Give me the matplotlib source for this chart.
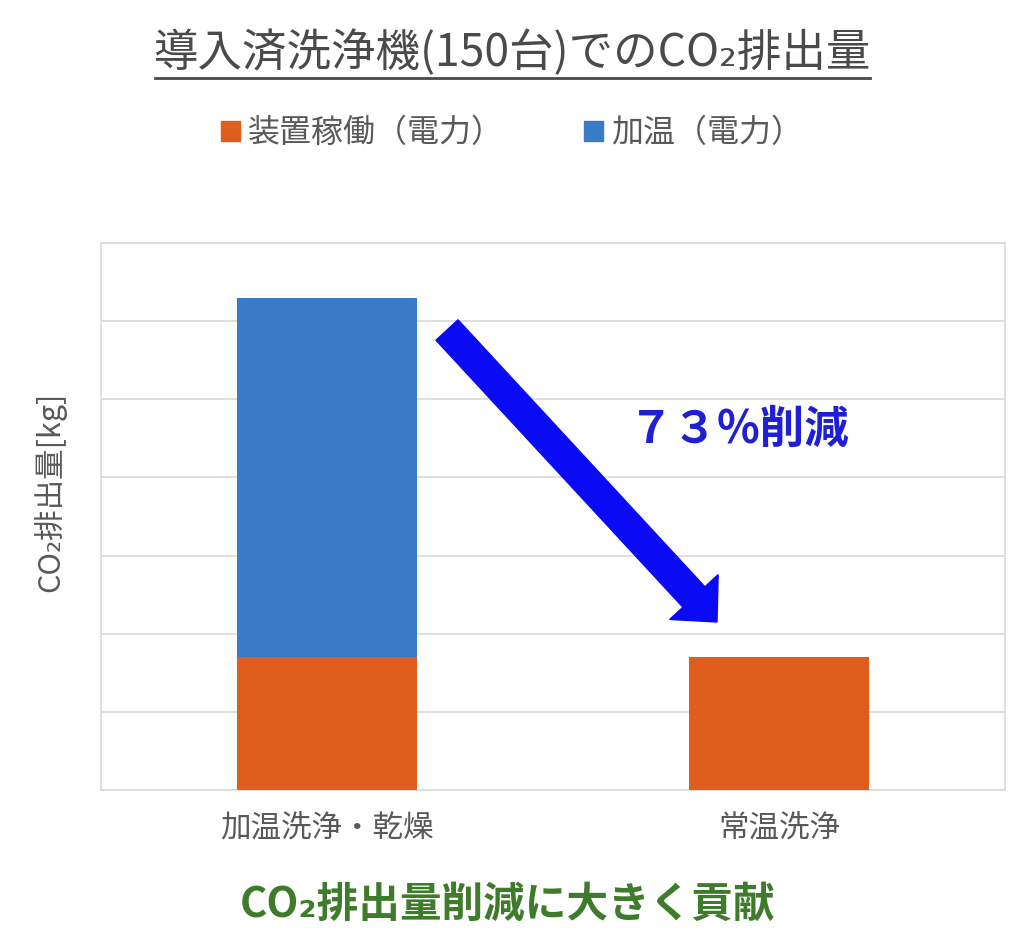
import matplotlib
matplotlib.use("Agg")
import matplotlib.pyplot as plt
from matplotlib.patches import FancyArrow
from matplotlib.lines import Line2D
from matplotlib.patches import Patch

plt.rcParams['font.family'] = ['Noto Sans CJK JP', 'DejaVu Sans']

# data (kg, relative scale)
categories = ['加温洗浄・乾燥', '常温洗浄']
operation = [1.7, 1.7]      # 装置稼働（電力）
heating = [4.6, 0.0]        # 加温（電力）
series_labels = ['装置稼働（電力）', '加温（電力）']
reduction_text = '７３%削減'

ORANGE = '#DF5E1E'
BLUE = '#3A7BC7'
GRAY = '#595959'
GRID = '#D9D9D9'

W, H = 1024, 931
fig = plt.figure(figsize=(W / 100, H / 100), dpi=100)
ax = fig.add_axes([101 / W, 1 - 790 / H, 904 / W, 547 / H])

x = list(range(len(categories)))
ax.bar(x, operation, width=0.4, color=ORANGE, zorder=3)
ax.bar(x, heating, width=0.4, bottom=operation, color=BLUE, zorder=3)

ax.set_xlim(-0.5, 1.5)
ax.set_ylim(0, 7)
ax.set_yticks(range(0, 8))
ax.set_yticklabels([])
ax.tick_params(axis='y', length=0)
ax.tick_params(axis='x', length=0, pad=16, labelsize=22, labelcolor=GRAY)
ax.set_xticks(x)
ax.set_xticklabels(categories)
ax.grid(axis='y', color=GRID, lw=1.2, zorder=0)
for s in ax.spines.values():
    s.set_color(GRID)
    s.set_linewidth(1.2)

ax.set_ylabel('CO₂排出量[kg]', fontsize=22, color=GRAY, va='center')
ax.yaxis.set_label_coords(-0.057, 0.545)

# title with underline
fig.text(512 / W, 1 - 53 / H, '導入済洗浄機(150台)でのCO₂排出量', ha='center', va='center',
         fontsize=32, color='#4A4A4A')
fig.add_artist(Line2D([155 / W, 870 / W], [1 - 78 / H, 1 - 78 / H], color='#4A4A4A', lw=2,
                      transform=fig.transFigure))

# legend
handles = [Patch(color=ORANGE), Patch(color=BLUE)]
fig.legend(handles, series_labels, loc='center', bbox_to_anchor=(512 / W, 1 - 133 / H),
           ncol=2, frameon=False, fontsize=23, handlelength=0.6, handleheight=0.6,
           handletextpad=0.25, columnspacing=2.5, labelcolor=GRAY)

# reduction arrow (display pixel coords)
tail = (447, H - 330)
tip = (717, H - 622)
fig.add_artist(FancyArrow(tail[0], tail[1], tip[0] - tail[0], tip[1] - tail[1],
                          width=30, head_width=66, head_length=34,
                          length_includes_head=True, color='#0A0AF5', transform=None))
fig.text(739 / W, 1 - 430 / H, reduction_text, ha='center', va='center', fontsize=32,
         fontweight='bold', color='#1F1FD6')

fig.text(507 / W, 1 - 905 / H, 'CO₂排出量削減に大きく貢献', ha='center', va='center',
         fontsize=30, fontweight='bold', color='#3E7B2A')

fig.savefig('out.png', dpi=100, facecolor='white')
